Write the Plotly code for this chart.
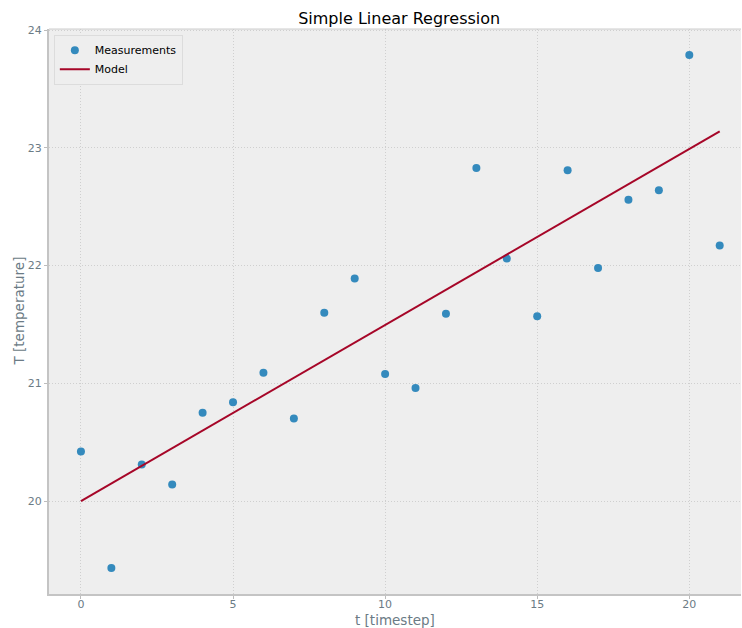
import plotly.graph_objects as go

t_values = list(range(22))
T_values = [20.42, 19.43, 20.31, 20.14, 20.75, 20.84, 21.09, 20.70, 21.60, 21.89,
            21.08, 20.96, 21.59, 22.83, 22.06, 21.57, 22.81, 21.98, 22.56, 22.64,
            23.79, 22.17]
model_t = [0, 21]
model_T = [20.0, 23.14]
x_ticks = [0, 5, 10, 15, 20]
y_ticks = [20, 21, 22, 23, 24]

FONT = "DejaVu Sans"
TICKC = "#6b7b85"

fig = go.Figure()
fig.add_trace(go.Scatter(x=t_values, y=T_values, mode="markers", name="Measurements",
                         marker=dict(color="#348ABD", size=8)))
fig.add_trace(go.Scatter(x=model_t, y=model_T, mode="lines", name="Model",
                         line=dict(color="#A60628", width=2)))

axis_common = dict(ticks="outside", ticklen=3, tickcolor="#bcbcbc", showgrid=True,
                   gridcolor="#cfcfcf", griddash="1px,2px", gridwidth=1, zeroline=False,
                   showline=True, linecolor="#c4c4c4", linewidth=2, automargin=False,
                   tickfont=dict(family=FONT, size=11, color=TICKC))

fig.update_layout(
    width=742, height=628,
    margin=dict(l=49, r=1, t=29, b=34),
    paper_bgcolor="white", plot_bgcolor="#eeeeee",
    font=dict(family=FONT, size=11, color=TICKC),
    title=dict(text="Simple Linear Regression", x=0.538, xanchor="center",
               y=0.971, yanchor="middle",
               font=dict(family=FONT, size=16, color="black")),
    showlegend=True,
    legend=dict(x=0.007, y=0.99, xanchor="left", yanchor="top",
                bgcolor="#eeeeee", bordercolor="#dcdcdc", borderwidth=1,
                font=dict(family=FONT, size=11, color="black"),
                tracegroupgap=0, itemwidth=30),
    xaxis=dict(range=[-1.05, 21.7], tickvals=x_ticks, ticklabelstandoff=-4, **axis_common),
    yaxis=dict(range=[19.21, 24.01], tickvals=y_ticks, **axis_common),
)
fig.add_shape(type="line", xref="paper", yref="paper", x0=0, x1=1, y0=1, y1=1,
              line=dict(color="#cccccc", width=1))
fig.add_annotation(text="t [timestep]", xref="paper", yref="paper", x=0.5, y=0,
                   yshift=-26, xanchor="center", yanchor="middle", showarrow=False,
                   font=dict(family=FONT, size=13.5, color=TICKC))
fig.add_annotation(text="T [temperature]", xref="paper", yref="paper", x=0, y=0.5,
                   xshift=-31, xanchor="center", yanchor="middle", showarrow=False,
                   textangle=-90, font=dict(family=FONT, size=13.5, color=TICKC))

fig.write_html("out.html")
